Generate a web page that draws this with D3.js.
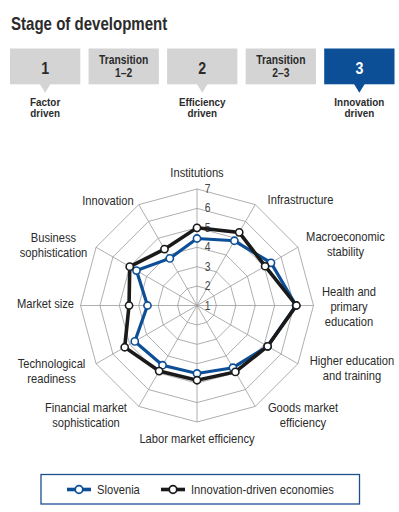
<!DOCTYPE html>
<html><head><meta charset="utf-8">
<script src="https://cdn.jsdelivr.net/npm/d3@7"></script>
<style>
html,body{margin:0;padding:0;background:#fff;}
svg{display:block;}
text{font-family:"Liberation Sans",Arial,sans-serif;}
</style></head>
<body>
<svg id="chart" width="399" height="512"></svg>
<script>
// ---- data ----
const title = "Stage of development";
const stageBoxes = ["1", "Transition|1–2", "2", "Transition|2–3", "3"];
const stageLabels = ["Factor|driven", "", "Efficiency|driven", "", "Innovation|driven"];
const activeStage = 4;
const categories = [
  "Institutions", "Infrastructure", "Macroeconomic|stability", "Health and|primary|education",
  "Higher education|and training", "Goods market|efficiency", "Labor market efficiency",
  "Financial market|sophistication", "Technological|readiness", "Market size",
  "Business|sophistication", "Innovation"
];
const slovenia = [4.45, 4.85, 5.4, 6.1, 5.2, 4.7, 4.5, 4.55, 4.7, 3.55, 4.6, 3.8];
const innovationDriven = [5.0, 5.35, 5.05, 6.12, 5.2, 4.95, 4.85, 4.9, 5.3, 4.5, 5.0, 4.35];
const tickValues = [1, 2, 3, 4, 5, 6, 7];
const seriesNames = ["Slovenia", "Innovation-driven economies"];

// ---- layout ----
const svg = d3.select("#chart");
const BLUE = "#0c4f97", DARK = "#1a1a1a", TXT = "#2b2b2b", GRAYBOX = "#d4d4d4";
const SX = 0.86; // condensed look

function txt(parent, x, y, str, o) {
  o = o || {};
  return parent.append("text")
    .attr("transform", `translate(${x},${y}) scale(${o.sx || SX},1)`)
    .attr("text-anchor", o.anchor || "middle")
    .attr("font-size", o.size || 13)
    .attr("font-weight", o.weight || "normal")
    .attr("fill", o.fill || TXT)
    .text(str);
}

txt(svg, 11, 30, title, { anchor: "start", size: 17.5, weight: "bold" });

const bx = d3.scaleBand().domain(d3.range(stageBoxes.length)).range([10, 394.5]).paddingInner(0.105);
const boxTop = 48.5, boxH = 35.8;
const g = svg.append("g");
stageBoxes.forEach((s, i) => {
  const x = bx(i), w = bx.bandwidth(), c = x + w / 2;
  const active = i === activeStage;
  const fill = active ? BLUE : GRAYBOX;
  g.append("rect").attr("x", x).attr("y", boxTop).attr("width", w).attr("height", boxH).attr("fill", fill);
  const lines = s.split("|");
  if (lines.length === 1) {
    txt(g, c, 73.5, lines[0], { size: 16.5, weight: "bold", fill: active ? "#fff" : TXT });
  } else {
    lines.forEach((l, j) => txt(g, c, 64 + j * 13.4, l, { size: 12, weight: "bold" }));
  }
  if (stageLabels[i]) {
    const b = boxTop + boxH;
    g.append("path").attr("d", `M${c - 5.5},${b - 0.5} L${c + 5.5},${b - 0.5} L${c},${b + 8.5} Z`).attr("fill", fill);
    stageLabels[i].split("|").forEach((l, j) => txt(g, c, 105.5 + j * 11.6, l, { size: 11.5, weight: "bold" }));
  }
});

// radar
const cx = 197, cy = 305.5, R = 116.5;
const r = d3.scaleLinear().domain([1, 7]).range([0, R]);
const n = categories.length;
const ang = i => i * 2 * Math.PI / n;
const pt = (i, v) => [cx + r(v) * Math.sin(ang(i)), cy - r(v) * Math.cos(ang(i))];

const grid = svg.append("g").attr("fill", "none").attr("stroke", "#9a9a9a").attr("stroke-width", 0.8);
tickValues.filter(v => v > 1).forEach(v => {
  grid.append("path").attr("d", d3.line()(d3.range(n).map(i => pt(i, v))) + "Z");
});
d3.range(n).forEach(i => {
  const p = pt(i, 7);
  grid.append("line").attr("x1", cx).attr("y1", cy).attr("x2", p[0]).attr("y2", p[1]);
});

tickValues.forEach(v => {
  txt(svg, 207.5, cy - r(v) + 4, v, { size: 12, fill: "#444" });
});

// category labels: [centre x, first line centre y]
const labelPos = [[197, 172], [300.5, 199.5], [345.5, 236.5], [349, 291.5], [352, 360.5], [303, 407.5],
  [197, 438.5], [86, 407.5], [51.5, 363.5], [45.5, 303.5], [53.5, 237.5], [108, 200]];
categories.forEach((c, i) => {
  c.split("|").forEach((l, j) => txt(svg, labelPos[i][0], labelPos[i][1] + 4.6 + j * 15, l, { size: 13 }));
});

const radial = d3.lineRadial().angle((d, i) => ang(i)).radius(d => r(d)).curve(d3.curveLinearClosed);
function drawSeries(vals, color, width) {
  const gg = svg.append("g").attr("transform", `translate(${cx},${cy})`);
  gg.append("path").attr("d", radial(vals)).attr("fill", "none").attr("stroke", color)
    .attr("stroke-width", width).attr("stroke-linejoin", "miter");
  vals.forEach((v, i) => {
    const p = pt(i, v);
    svg.append("circle").attr("cx", p[0]).attr("cy", p[1]).attr("r", 3.6).attr("fill", "#fff")
      .attr("stroke", color).attr("stroke-width", 1.6);
  });
}
drawSeries(slovenia, BLUE, 3.2);
drawSeries(innovationDriven, DARK, 3.6);

// legend
const lg = svg.append("g");
lg.append("rect").attr("x", 41).attr("y", 474.5).attr("width", 318.5).attr("height", 29.5)
  .attr("fill", "#fff").attr("stroke", "#1d4f8f").attr("stroke-width", 1.3);
const legItems = [{ name: seriesNames[0], color: BLUE, x: 67 }, { name: seriesNames[1], color: DARK, x: 161 }];
legItems.forEach(it => {
  lg.append("line").attr("x1", it.x).attr("x2", it.x + 24).attr("y1", 489.5).attr("y2", 489.5)
    .attr("stroke", it.color).attr("stroke-width", 3.6);
  lg.append("circle").attr("cx", it.x + 12).attr("cy", 489.5).attr("r", 3.8).attr("fill", "#fff")
    .attr("stroke", it.color).attr("stroke-width", 1.8);
  txt(lg, it.x + 30, 494, it.name, { anchor: "start", size: 13 });
});
</script>
</body></html>
